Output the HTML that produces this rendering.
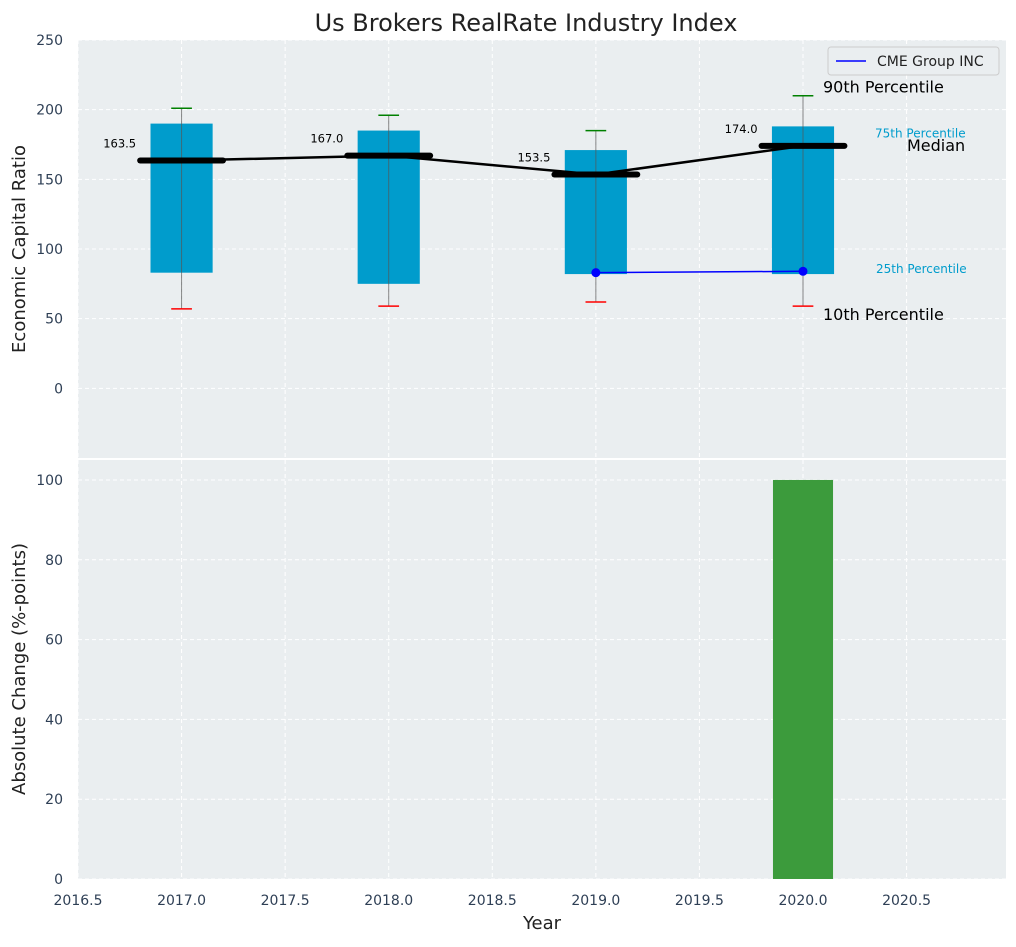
<!DOCTYPE html>
<html><head><meta charset="utf-8"><style>
body{margin:0;background:#fff;}
svg text{font-family:"DejaVu Sans","Liberation Sans",sans-serif;}
</style></head><body>
<svg id="c" width="1016" height="942" xmlns="http://www.w3.org/2000/svg"></svg>
<script>
const years=[2017,2018,2019,2020];
const p90=[201,196,185,210];
const p75=[190,185,171,188];
const medians=[163.5,167,153.5,174];
const p25=[83,75,82,82];
const p10=[57,59,62,59];
const cmeYears=[2019,2020];
const cmeValues=[83,84];
const changeYears=[2020];
const changeValues=[100];
const topTicks=[0,50,100,150,200,250];
const botTicks=[0,20,40,60,80,100];
const xTicks=[2016.5,2017,2017.5,2018,2018.5,2019,2019.5,2020,2020.5];

const svg=document.getElementById('c');
const NS='http://www.w3.org/2000/svg';
function el(t,a,txt){const e=document.createElementNS(NS,t);for(const k in a)e.setAttribute(k,a[k]);if(txt!==undefined)e.textContent=txt;svg.appendChild(e);return e;}
const L=78,R=1006;
const x=v=>L+(v-2016.5)/(2020.98-2016.5)*(R-L);
const T0=40,T1=458, yT=v=>T0+(250-v)/300*(T1-T0);
const B0=460,B1=879, yB=v=>B1-v/105*(B1-B0);

let e;
e=el('rect',{x:L,y:T0,width:R-L,height:T1-T0,fill:'#eaeef0'});

e=el('rect',{x:L,y:B0,width:R-L,height:B1-B0,fill:'#eaeef0'});


xTicks.forEach(v=>{
 el('line',{x1:x(v),x2:x(v),y1:T0,y2:T1,stroke:'#fff','stroke-dasharray':'4,3','stroke-width':1});
 el('line',{x1:x(v),x2:x(v),y1:B0,y2:B1,stroke:'#fff','stroke-dasharray':'4,3','stroke-width':1});
 e=el('text',{x:x(v),y:905,'text-anchor':'middle','font-size':14,fill:'#2e3f55'},v.toFixed(1));
 
});
topTicks.forEach(v=>{
 el('line',{x1:L,x2:R,y1:yT(v),y2:yT(v),stroke:'#fff','stroke-dasharray':'4,3'});
 e=el('text',{x:63,y:yT(v)+5,'text-anchor':'end','font-size':14,fill:'#2e3f55'},v);
 
});
botTicks.forEach(v=>{
 el('line',{x1:L,x2:R,y1:yB(v),y2:yB(v),stroke:'#fff','stroke-dasharray':'4,3'});
 e=el('text',{x:63,y:yB(v)+5,'text-anchor':'end','font-size':14,fill:'#2e3f55'},v);
 
});

years.forEach((yr,i)=>{
 e=el('rect',{x:x(yr-0.15),y:yT(p75[i]),width:x(yr+0.15)-x(yr-0.15),height:yT(p25[i])-yT(p75[i]),fill:'#009ccc'});
 
 el('line',{x1:x(yr),x2:x(yr),y1:yT(p90[i]),y2:yT(p10[i]),stroke:'#555','stroke-width':1,opacity:0.7});
 e=el('line',{x1:x(yr-0.05),x2:x(yr+0.05),y1:yT(p90[i]),y2:yT(p90[i]),stroke:'green','stroke-width':1.5});
 
 e=el('line',{x1:x(yr-0.05),x2:x(yr+0.05),y1:yT(p10[i]),y2:yT(p10[i]),stroke:'red','stroke-width':1.5});
 
});
e=el('polyline',{points:years.map((yr,i)=>x(yr)+','+yT(medians[i])).join(' '),fill:'none',stroke:'#000','stroke-width':2.5});

years.forEach((yr,i)=>{
 e=el('line',{x1:x(yr-0.2),x2:x(yr+0.2),y1:yT(medians[i]),y2:yT(medians[i]),stroke:'#000','stroke-width':6,'stroke-linecap':'round'});
 
 e=el('text',{x:x(yr-0.2)-4,y:yT(medians[i])-13,'text-anchor':'end','font-size':11.5,fill:'#000'},medians[i].toFixed(1));
 
});
e=el('polyline',{points:cmeYears.map((yr,i)=>x(yr)+','+yT(cmeValues[i])).join(' '),fill:'none',stroke:'blue','stroke-width':1.5});

cmeYears.forEach((yr,i)=>{e=el('circle',{cx:x(yr),cy:yT(cmeValues[i]),r:4.5,fill:'blue'});
 });
const ly=years.length-1;
[['90th Percentile',x(2020)+20,yT(p90[ly])-3,16,'#000'],['75th Percentile',875,yT(p75[ly])+11,12,'#009ccc'],
 ['Median',907,yT(medians[ly])+5,16,'#000'],['25th Percentile',876,yT(p25[ly])-1,12,'#009ccc'],
 ['10th Percentile',x(2020)+20,yT(p10[ly])+14,16,'#000']].forEach(a=>{
 e=el('text',{x:a[1],y:a[2],'font-size':a[3],fill:a[4]},a[0]);
 });
e=el('rect',{x:828,y:47,width:171,height:28,fill:'#eaeef0',stroke:'#ccc',rx:3});

el('line',{x1:836,x2:866,y1:61,y2:61,stroke:'blue','stroke-width':1.5});
e=el('text',{x:877,y:66,'font-size':14,fill:'#222'},'CME Group INC');

changeYears.forEach((yr,i)=>{
 e=el('rect',{x:x(yr-0.145),y:yB(changeValues[i]),width:x(yr+0.145)-x(yr-0.145),height:B1-yB(changeValues[i]),fill:'#3c9b3c'});
 
});
e=el('text',{x:526,y:31,'text-anchor':'middle','font-size':24,fill:'#222'},'Us Brokers RealRate Industry Index');

e=el('text',{x:542,y:929,'text-anchor':'middle','font-size':18,fill:'#222'},'Year');

e=el('text',{x:0,y:0,'text-anchor':'middle','font-size':18,fill:'#222',transform:'translate(25,249) rotate(-90)'},'Economic Capital Ratio');

e=el('text',{x:0,y:0,'text-anchor':'middle','font-size':18,fill:'#222',transform:'translate(25,669) rotate(-90)'},'Absolute Change (%-points)');

</script>
</body></html>
